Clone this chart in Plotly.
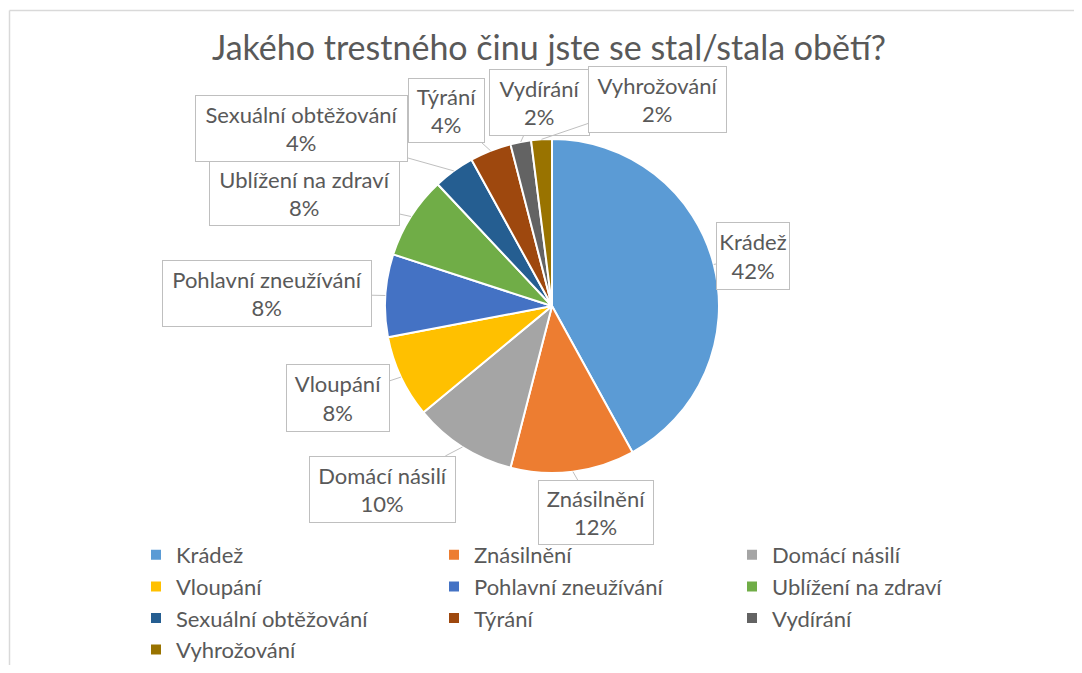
import math
import plotly.graph_objects as go

# ---- data ----
categories = ["Krádež", "Znásilnění", "Domácí násilí", "Vloupání", "Pohlavní zneužívání",
              "Ublížení na zdraví", "Sexuální obtěžování", "Týrání", "Vydírání", "Vyhrožování"]
percent_values = [42, 12, 10, 8, 8, 8, 4, 4, 2, 2]
slice_colors = ["#5B9BD5", "#ED7D31", "#A5A5A5", "#FFC000", "#4472C4",
                "#70AD47", "#255E91", "#9E480E", "#636363", "#997300"]
title_text = "Jakého trestného činu jste se stal/stala obětí?"

# ---- layout constants (figure pixels; page adds an 8px body margin) ----
W, H = 1066, 657
PH = 526                      # plot-area height (legend sits below)
MB = H - PH
CX, CY, R = 544, 298, 167
# label box centres and sizes (pixels) – Excel "best fit" callout placement
label_box_px = [(745, 248), (588, 504), (374, 481), (330, 390), (259, 285),
                (296, 185), (293, 120), (438, 102), (531, 94), (649, 92)]
label_box_size = [(74, 68), (116, 65), (147, 67), (104, 68), (210, 67),
                  (191, 65), (213, 67), (77, 65), (101, 67), (139, 67)]

TEXT_COLOR = "#595959"
FONT = "Lato"
LABEL_SIZE = 22

fig = go.Figure()
fig.add_trace(go.Pie(
    labels=categories, values=percent_values,
    marker=dict(colors=slice_colors, line=dict(color="white", width=2)),
    sort=False, direction="clockwise", rotation=0,
    textinfo="none", hoverinfo="label+percent",
    domain=dict(x=[(CX - R) / W, (CX + R) / W],
                y=[(PH - CY - R) / PH, (PH - CY + R) / PH]),
))

# callout annotations: tip computed from slice mid angle
total = sum(percent_values)
annotations = []
cum = 0
for lab, v, (bx, by), (bw, bh) in zip(categories, percent_values, label_box_px, label_box_size):
    mid = (cum + v / 2) / total * 2 * math.pi
    cum += v
    tx = CX + R * math.sin(mid)
    ty = CY - R * math.cos(mid)
    annotations.append(dict(
        x=tx / W, y=(PH - ty) / PH, xref="paper", yref="paper",
        ax=bx - tx, ay=by - ty, axref="pixel", ayref="pixel",
        text=f"{lab}<br>{round(v / total * 100)}%",
        width=bw - 4, height=bh - 4,
        showarrow=True, arrowhead=0, arrowwidth=1, arrowcolor="#bfbfbf", standoff=0,
        bordercolor="#bfbfbf", borderwidth=1, borderpad=1, bgcolor="white",
        font=dict(family=FONT, size=LABEL_SIZE, color=TEXT_COLOR), align="center",
        valign="middle",
    ))

fig.update_layout(
    width=W, height=H,
    margin=dict(l=0, r=0, t=0, b=MB, autoexpand=False),
    paper_bgcolor="white", plot_bgcolor="white",
    title=dict(text=title_text, x=541 / W, xanchor="center", y=1 - 40 / H, yanchor="middle",
               font=dict(family=FONT, size=34, color=TEXT_COLOR)),
    showlegend=True,
    legend=dict(orientation="h", x=128 / W, xanchor="left", y=0, yanchor="top",
                entrywidth=253, entrywidthmode="pixels", traceorder="normal",
                font=dict(family=FONT, size=LABEL_SIZE, color=TEXT_COLOR),
                bgcolor="rgba(0,0,0,0)"),
    annotations=annotations,
    shapes=[dict(type="line", xref="paper", yref="paper",
                 x0=1.5 / W, x1=1, y0=(PH - 2.5) / PH, y1=(PH - 2.5) / PH,
                 line=dict(color="#d9d9d9", width=1.5), layer="below"),
            dict(type="line", xref="paper", yref="paper",
                 x0=1.5 / W, x1=1.5 / W, y0=(PH - H) / PH, y1=(PH - 2.5) / PH,
                 line=dict(color="#d9d9d9", width=1.5), layer="below")],
)

fig.write_html("out.html")
